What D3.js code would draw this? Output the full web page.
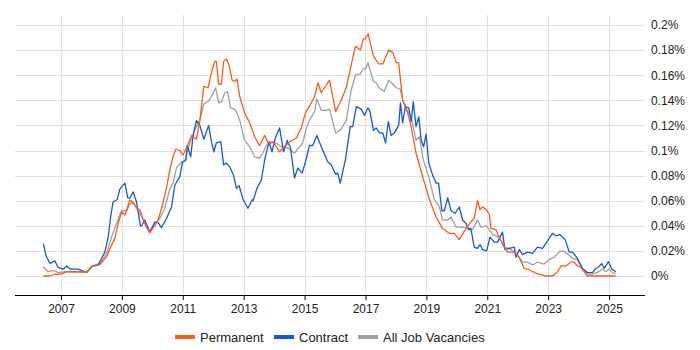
<!DOCTYPE html>
<html>
<head>
<meta charset="utf-8">
<script src="https://cdn.jsdelivr.net/npm/d3@7"></script>
<style>
  body { margin: 0; background: #fff; }
  svg text { font-family: "Liberation Sans", Arial, sans-serif; fill: #222; }
</style>
</head>
<body>
<svg id="chart" width="700" height="350"></svg>
<script>
'use strict';

// decimal year, value in %
const permanent = [
  [2006.42,0],[2006.64,0],[2006.80,0.0014],[2007.02,0.0015],[2007.19,0.0034],[2007.51,0.0034],
  [2007.84,0.003],[2008.01,0.0074],[2008.17,0.0088],[2008.28,0.009],[2008.50,0.0154],[2008.61,0.022],
  [2008.77,0.030],[2008.88,0.042],[2008.99,0.051],[2009.10,0.0486],[2009.15,0.052],[2009.26,0.0606],
  [2009.37,0.059],[2009.48,0.054],[2009.59,0.053],[2009.70,0.0446],[2009.81,0.039],[2009.92,0.0345],
  [2010.08,0.040],[2010.19,0.0446],[2010.35,0.058],[2010.47,0.071],[2010.57,0.084],[2010.68,0.095],
  [2010.77,0.101],[2010.90,0.100],[2011.01,0.0964],[2011.12,0.102],[2011.29,0.112],[2011.45,0.109],
  [2011.56,0.124],[2011.69,0.151],[2011.83,0.150],[2011.94,0.162],[2012.05,0.171],[2012.10,0.171],
  [2012.18,0.153],[2012.27,0.153],[2012.34,0.171],[2012.43,0.173],[2012.52,0.168],[2012.62,0.156],
  [2012.70,0.155],[2012.78,0.157],[2012.87,0.143],[2013.03,0.130],[2013.20,0.122],[2013.36,0.111],
  [2013.52,0.104],[2013.69,0.112],[2013.80,0.106],[2013.96,0.107],[2014.18,0.099],[2014.34,0.103],
  [2014.51,0.107],[2014.73,0.110],[2014.89,0.118],[2015.03,0.130],[2015.22,0.138],[2015.33,0.143],
  [2015.44,0.154],[2015.55,0.146],[2015.71,0.152],[2015.82,0.156],[2016.02,0.131],[2016.20,0.140],
  [2016.37,0.150],[2016.53,0.168],[2016.67,0.183],[2016.83,0.180],[2016.93,0.189],[2017.00,0.189],
  [2017.09,0.193],[2017.26,0.175],[2017.44,0.169],[2017.57,0.169],[2017.76,0.180],[2017.90,0.178],
  [2018.01,0.170],[2018.09,0.170],[2018.22,0.140],[2018.33,0.135],[2018.50,0.119],[2018.66,0.098],
  [2018.88,0.079],[2019.10,0.061],[2019.32,0.047],[2019.53,0.038],[2019.75,0.034],[2019.92,0.034],
  [2020.08,0.029],[2020.25,0.036],[2020.46,0.043],[2020.57,0.046],[2020.68,0.060],[2020.76,0.053],
  [2020.85,0.055],[2020.96,0.053],[2021.07,0.049],[2021.12,0.038],[2021.28,0.037],[2021.39,0.031],
  [2021.56,0.023],[2021.67,0.019],[2021.89,0.019],[2022.05,0.015],[2022.21,0.006],[2022.38,0.005],
  [2022.60,0.002],[2022.76,0.001],[2022.92,0],[2023.14,0],[2023.30,0.003],[2023.42,0.008],
  [2023.58,0.008],[2023.74,0.011],[2023.85,0.011],[2023.96,0.008],[2024.07,0.007],[2024.29,0],
  [2025.22,0]
];

const contract = [
  [2006.42,0.026],[2006.51,0.016],[2006.64,0.010],[2006.80,0.012],[2006.91,0.0066],[2007.08,0.0055],
  [2007.19,0.008],[2007.30,0.0055],[2007.57,0.0055],[2007.84,0.0027],[2008.01,0.0074],[2008.22,0.0088],
  [2008.33,0.014],[2008.44,0.019],[2008.55,0.031],[2008.63,0.047],[2008.71,0.059],[2008.85,0.061],
  [2008.93,0.069],[2009.10,0.074],[2009.19,0.0625],[2009.26,0.062],[2009.37,0.067],[2009.48,0.059],
  [2009.61,0.040],[2009.65,0.040],[2009.75,0.0446],[2009.92,0.035],[2010.08,0.043],[2010.19,0.0425],
  [2010.30,0.0385],[2010.47,0.046],[2010.63,0.055],[2010.74,0.0725],[2010.90,0.079],[2010.99,0.0906],
  [2011.10,0.092],[2011.15,0.104],[2011.26,0.095],[2011.34,0.112],[2011.45,0.124],[2011.56,0.120],
  [2011.69,0.109],[2011.85,0.120],[2011.94,0.107],[2012.02,0.099],[2012.10,0.106],[2012.25,0.107],
  [2012.34,0.0885],[2012.43,0.090],[2012.54,0.087],[2012.67,0.080],[2012.76,0.070],[2012.85,0.072],
  [2012.98,0.061],[2013.14,0.054],[2013.29,0.061],[2013.31,0.060],[2013.44,0.070],[2013.58,0.0765],
  [2013.69,0.0925],[2013.83,0.107],[2013.93,0.099],[2014.04,0.110],[2014.18,0.118],[2014.31,0.099],
  [2014.43,0.108],[2014.54,0.102],[2014.67,0.078],[2014.78,0.086],[2014.92,0.082],[2015.03,0.091],
  [2015.16,0.104],[2015.27,0.104],[2015.40,0.112],[2015.55,0.103],[2015.76,0.091],[2015.88,0.0885],
  [2016.02,0.081],[2016.09,0.082],[2016.17,0.074],[2016.34,0.0925],[2016.50,0.119],[2016.58,0.119],
  [2016.70,0.135],[2016.86,0.133],[2016.97,0.128],[2017.08,0.134],[2017.15,0.131],[2017.26,0.116],
  [2017.35,0.118],[2017.46,0.114],[2017.57,0.114],[2017.66,0.106],[2017.75,0.123],[2017.84,0.112],
  [2017.95,0.114],[2018.09,0.120],[2018.15,0.138],[2018.22,0.122],[2018.31,0.135],[2018.42,0.134],
  [2018.50,0.123],[2018.57,0.139],[2018.66,0.119],[2018.75,0.127],[2018.83,0.108],[2018.91,0.103],
  [2018.99,0.113],[2019.08,0.090],[2019.21,0.080],[2019.32,0.074],[2019.40,0.074],[2019.51,0.052],
  [2019.59,0.052],[2019.70,0.0625],[2019.81,0.052],[2019.95,0.050],[2020.08,0.055],[2020.19,0.0446],
  [2020.30,0.042],[2020.39,0.0367],[2020.46,0.038],[2020.57,0.023],[2020.68,0.022],[2020.76,0.025],
  [2020.85,0.021],[2020.98,0.020],[2021.09,0.031],[2021.23,0.027],[2021.34,0.027],[2021.50,0.035],
  [2021.58,0.021],[2021.72,0.022],[2021.89,0.023],[2021.94,0.015],[2022.05,0.021],[2022.16,0.017],
  [2022.32,0.019],[2022.49,0.018],[2022.65,0.023],[2022.81,0.022],[2022.98,0.028],[2023.14,0.034],
  [2023.25,0.032],[2023.38,0.033],[2023.56,0.029],[2023.69,0.019],[2023.80,0.019],[2023.96,0.014],
  [2024.13,0.006],[2024.29,0.0027],[2024.45,0.0027],[2024.56,0.006],[2024.67,0.0074],[2024.76,0.010],
  [2024.84,0.006],[2024.98,0.0114],[2025.09,0.0055],[2025.22,0.0034]
];

const allJobs = [
  [2006.42,0.0074],[2006.58,0.0034],[2006.75,0.0044],[2006.91,0.0027],[2007.13,0.0034],[2007.40,0.0034],
  [2007.68,0.0034],[2007.84,0.003],[2008.01,0.008],[2008.28,0.010],[2008.50,0.018],[2008.66,0.031],
  [2008.83,0.042],[2008.99,0.052],[2009.15,0.052],[2009.32,0.059],[2009.48,0.055],[2009.65,0.047],
  [2009.81,0.039],[2009.92,0.035],[2010.08,0.042],[2010.25,0.046],[2010.41,0.054],[2010.57,0.069],
  [2010.68,0.074],[2010.79,0.086],[2010.96,0.091],[2011.07,0.092],[2011.23,0.106],[2011.39,0.116],
  [2011.56,0.124],[2011.69,0.137],[2011.83,0.139],[2011.94,0.143],[2012.08,0.150],[2012.18,0.138],
  [2012.27,0.139],[2012.38,0.146],[2012.47,0.147],[2012.57,0.134],[2012.70,0.133],[2012.78,0.130],
  [2012.87,0.124],[2013.03,0.108],[2013.20,0.103],[2013.30,0.098],[2013.36,0.095],[2013.52,0.094],
  [2013.63,0.098],[2013.74,0.104],[2013.91,0.106],[2014.07,0.106],[2014.24,0.103],[2014.45,0.102],
  [2014.67,0.098],[2014.84,0.103],[2014.94,0.106],[2015.06,0.118],[2015.16,0.124],[2015.33,0.131],
  [2015.40,0.141],[2015.55,0.132],[2015.71,0.132],[2015.82,0.133],[2016.02,0.114],[2016.20,0.117],
  [2016.37,0.124],[2016.53,0.148],[2016.67,0.160],[2016.83,0.161],[2016.93,0.165],[2017.00,0.165],
  [2017.08,0.170],[2017.26,0.155],[2017.35,0.154],[2017.44,0.150],[2017.62,0.147],[2017.76,0.156],
  [2017.90,0.153],[2018.01,0.150],[2018.14,0.149],[2018.22,0.140],[2018.33,0.133],[2018.50,0.127],
  [2018.66,0.108],[2018.77,0.111],[2018.90,0.0925],[2019.08,0.079],[2019.26,0.061],[2019.43,0.055],
  [2019.53,0.0446],[2019.70,0.0446],[2019.81,0.047],[2019.97,0.039],[2020.19,0.039],[2020.41,0.038],
  [2020.52,0.037],[2020.68,0.0446],[2020.79,0.039],[2020.96,0.040],[2021.07,0.037],[2021.17,0.033],
  [2021.39,0.031],[2021.56,0.023],[2021.72,0.022],[2021.94,0.018],[2022.16,0.011],[2022.32,0.011],
  [2022.49,0.0088],[2022.65,0.011],[2022.87,0.0095],[2023.03,0.013],[2023.20,0.015],[2023.36,0.019],
  [2023.47,0.020],[2023.63,0.018],[2023.80,0.014],[2023.96,0.013],[2024.13,0.0055],[2024.29,0.0015],
  [2024.45,0.0015],[2024.67,0.0034],[2024.78,0.0055],[2024.89,0.0034],[2025.00,0.0055],[2025.11,0.0025],
  [2025.22,0.002]
];

const yearTicks = [2007, 2009, 2011, 2013, 2015, 2017, 2019, 2021, 2023, 2025];
const valueTicks = [0, 0.02, 0.04, 0.06, 0.08, 0.1, 0.12, 0.14, 0.16, 0.18, 0.2];

const series = [
  { name: 'Permanent', values: permanent, color: '#ff5a1a' },
  { name: 'Contract', values: contract, color: '#1558db' },
  { name: 'All Job Vacancies', values: allJobs, color: '#a0a0a0' }
];

const svg = d3.select('#chart'),
      plotLeft = 15, plotRight = 645, plotTop = 15, plotBottom = 295;

const x = d3.scaleLinear().domain([2005.49, 2026.18]).range([plotLeft, plotRight]);
const y = d3.scaleLinear().domain([0, 0.2]).range([276, 25]);

// grid
svg.append('g').selectAll('line').data(yearTicks).join('line')
  .attr('x1', d => Math.round(x(d)) + 0.5).attr('x2', d => Math.round(x(d)) + 0.5)
  .attr('y1', plotTop).attr('y2', plotBottom)
  .attr('stroke', '#e0e0e0').attr('stroke-width', 1);

svg.append('g').selectAll('line').data(valueTicks).join('line')
  .attr('x1', plotLeft).attr('x2', plotRight)
  .attr('y1', d => Math.round(y(d)) + 0.5).attr('y2', d => Math.round(y(d)) + 0.5)
  .attr('stroke', '#e0e0e0').attr('stroke-width', 1);

// x axis
const xAxis = d3.axisBottom(x).tickValues(yearTicks).tickFormat(d3.format('d')).tickSize(5).tickPadding(4);
const gx = svg.append('g').attr('transform', `translate(0,${plotBottom})`).call(xAxis);
gx.select('.domain').attr('d', `M${plotLeft},0.5H${plotRight}`).attr('stroke', '#000');
gx.selectAll('.tick line').attr('stroke', '#000');
gx.selectAll('text').attr('font-size', 12).attr('fill', '#222');

// y labels on the right
const yAxis = d3.axisRight(y).tickValues(valueTicks).tickFormat(d => d + '%').tickSize(0).tickPadding(6);
const gy = svg.append('g').attr('transform', `translate(${plotRight},0)`).call(yAxis);
gy.select('.domain').remove();
gy.selectAll('text').attr('font-size', 12).attr('fill', '#222');

// lines
const line = d3.line().x(d => x(d[0])).y(d => y(d[1]));
svg.append('g').selectAll('path').data(series.slice().reverse()).join('path')
  .attr('d', d => line(d.values))
  .attr('fill', 'none')
  .attr('stroke', d => d.color)
  .attr('stroke-width', 1.3)
  .attr('stroke-linejoin', 'round');

// legend
const legendX = [175, 274, 358];
const legend = svg.append('g').selectAll('g').data(series).join('g')
  .attr('transform', (d, i) => `translate(${legendX[i]},337)`);
legend.append('line')
  .attr('x1', 0).attr('x2', 20).attr('y1', 0).attr('y2', 0)
  .attr('stroke', d => d.color).attr('stroke-width', 4);
legend.append('text')
  .attr('x', 25).attr('y', 0).attr('dy', '0.35em')
  .attr('font-size', 13)
  .text(d => d.name);
</script>
</body>
</html>
